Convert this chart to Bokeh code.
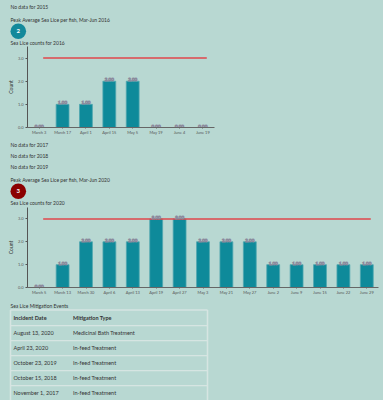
from bokeh.plotting import figure
from bokeh.layouts import column, row
from bokeh.models import Range1d, FactorRange, FixedTicker, PrintfTickFormatter, ColumnDataSource
from bokeh.core.properties import value
from bokeh.transform import dodge
from bokeh.embed import file_html
from bokeh.resources import INLINE

# ---------------- data ----------------
no_data_years_top = ["2015"]
no_data_years_mid = ["2017", "2018", "2019"]

dates_2016 = ["March 3", "March 17", "April 1", "April 15", "May 5", "May 19", "June 4", "June 19"]
counts_2016 = [0, 1, 1, 2, 2, 0, 0, 0]
peak_2016 = 2

dates_2020 = ["March 5", "March 13", "March 30", "April 6", "April 13", "April 19", "April 27",
              "May 3", "May 21", "May 27", "June 2", "June 9", "June 15", "June 22", "June 29"]
counts_2020 = [0, 1, 2, 2, 2, 3, 3, 2, 2, 2, 1, 1, 1, 1, 1]
peak_2020 = 3

threshold = 3
y_ticks = [0, 1, 2, 3]

table_headers = ["Incident Date", "Mitigation Type"]
event_dates = ["August 13, 2020", "April 23, 2020", "October 23, 2019", "October 15, 2018", "November 1, 2017"]
event_types = ["Medicinal Bath Treatment", "In-feed Treatment", "In-feed Treatment",
               "In-feed Treatment", "In-feed Treatment"]

# ---------------- style ----------------
BG = "#b8d8d2"
BAR = "#0e8a9a"
OK_BADGE = "#13899b"
BAD_BADGE = "#8b0000"
LINE_RED = "#e0474c"
TXT = "#333333"
FONT = "Lato"
W = 383
CAT_PX = 23.4
LEFT = 27


def blank(h, y_range=None):
    p = figure(width=W, height=h, x_range=Range1d(0, W),
               y_range=y_range if y_range is not None else Range1d(h, 0),
               x_axis_location=None, y_axis_location=None,
               output_backend="svg", toolbar_location=None, min_border=0)
    p.grid.visible = False
    p.outline_line_color = None
    p.background_fill_color = BG
    p.border_fill_color = BG
    return p


def txt(p, x, y, text, size="5px", style="normal", color=TXT, align="left"):
    p.text(x=x, y=y, text=text, text_font=value(FONT), text_font_size=size,
           text_font_style=style, text_color=color, text_align=align,
           text_baseline="middle")


def badge(p, x, y, peak):
    col = BAD_BADGE if peak >= threshold else OK_BADGE
    p.circle(x=[x], y=[y], radius=7.8, fill_color=col, line_color=None)
    txt(p, [x], [y], [str(peak)], size="6px", style="bold", color="white", align="center")


def chart(dates, counts, height, bottom):
    frame_w = min(int(round(CAT_PX * len(dates))), W - LEFT - 4)
    p = figure(x_range=FactorRange(*dates), y_range=Range1d(0, 3.5),
               width=W, height=height,
               min_border_top=1, min_border_bottom=bottom,
               min_border_left=LEFT, min_border_right=W - LEFT - frame_w,
               output_backend="svg", toolbar_location=None)
    p.background_fill_color = BG
    p.border_fill_color = BG
    p.outline_line_color = None
    p.grid.visible = False
    src = ColumnDataSource(dict(x=dates, top=counts, thr=[threshold] * len(dates),
                                lab=[f"{c:.2f}" for c in counts]))
    p.vbar(x="x", top="top", width=0.55, source=src, fill_color=BAR,
           line_color="#4fa7b0", line_width=0.8)
    p.line(x=dodge("x", 0.17, range=p.x_range), y="thr", source=src,
           line_color=LINE_RED, line_width=1.5)
    p.text(x="x", y="top", text="lab", source=src, text_font=value(FONT),
           text_font_size="4.5px", text_color="#f2f2f6", text_outline_color="#8a8a9c",
           text_align="center", text_baseline="bottom")
    ya = p.yaxis[0]
    ya.ticker = FixedTicker(ticks=y_ticks)
    ya.formatter = PrintfTickFormatter(format="%.1f")
    ya.axis_label = "Count"
    ya.axis_label_text_font = FONT
    ya.axis_label_text_font_size = "5px"
    ya.axis_label_text_font_style = "normal"
    ya.axis_label_text_color = TXT
    ya.axis_label_standoff = 1
    ya.major_label_text_font = FONT
    ya.major_label_text_font_size = "4px"
    ya.major_label_text_color = "#555555"
    ya.major_label_standoff = 2
    ya.major_tick_out = 2
    ya.major_tick_in = 0
    ya.minor_tick_out = 0
    ya.minor_tick_in = 0
    ya.axis_line_color = "#555555"
    ya.major_tick_line_color = "#555555"
    xa = p.xaxis[0]
    xa.major_label_text_font = FONT
    xa.major_label_text_font_size = "4px"
    xa.major_label_text_color = "#555555"
    xa.major_label_standoff = 1
    xa.major_tick_out = 1
    xa.major_tick_in = 0
    xa.axis_line_color = "#666666"
    xa.major_tick_line_color = "#666666"
    return p


# ---------------- header 2016 ----------------
hA = blank(45)
txt(hA, [10], [6], ["No data for " + y for y in no_data_years_top])
txt(hA, [10], [19], ["Peak Average Sea Lice per fish, Mar-Jun 2016"])
badge(hA, 17.8, 30.8, peak_2016)
txt(hA, [10], [42.3], ["Sea Lice counts for 2016"])

c16 = chart(dates_2016, counts_2016, 92, 10)

# ---------------- header 2020 ----------------
hB = blank(69)
txt(hB, [10] * len(no_data_years_mid), [7.3 + 11.2 * i for i in range(len(no_data_years_mid))],
    ["No data for " + y for y in no_data_years_mid])
txt(hB, [10], [42], ["Peak Average Sea Lice per fish, Mar-Jun 2020"])
badge(hB, 17.8, 53.7, peak_2020)
txt(hB, [10], [65.7], ["Sea Lice counts for 2020"])

c20 = chart(dates_2020, counts_2020, 91, 9)

# ---------------- table ----------------
ROW = 15.0
tH = 400 - 45 - 92 - 69 - 91
HDR = 20.7
tbl = blank(tH, y_range=Range1d((tH - HDR) / ROW, -HDR / ROW))
txt(tbl, [10], [(8 - HDR) / ROW], ["Sea Lice Mitigation Events"])
n = len(event_dates)
border = "#d6e5e2"
top_line = (12.5 - HDR) / ROW
tbl.segment(x0=[10] * (n + 1), x1=[207] * (n + 1), y0=[top_line] + [i + 0.5 for i in range(n)],
            y1=[top_line] + [i + 0.5 for i in range(n)], line_color=border, line_width=1.3)
tbl.segment(x0=[10, 207], x1=[10, 207], y0=[top_line, top_line], y1=[n + 1, n + 1],
            line_color=border, line_width=1.5)
txt(tbl, [13, 72.5], [0, 0], table_headers, size="5.5px", style="bold")
txt(tbl, [13] * n, list(range(1, n + 1)), event_dates, size="5.5px")
txt(tbl, [72.5] * n, list(range(1, n + 1)), event_types, size="5.5px")

layout = column(row(hA), row(c16), row(hB), row(c20), row(tbl), spacing=0,
                styles={"background-color": BG})

open("out.html", "w").write(file_html(layout, INLINE))
